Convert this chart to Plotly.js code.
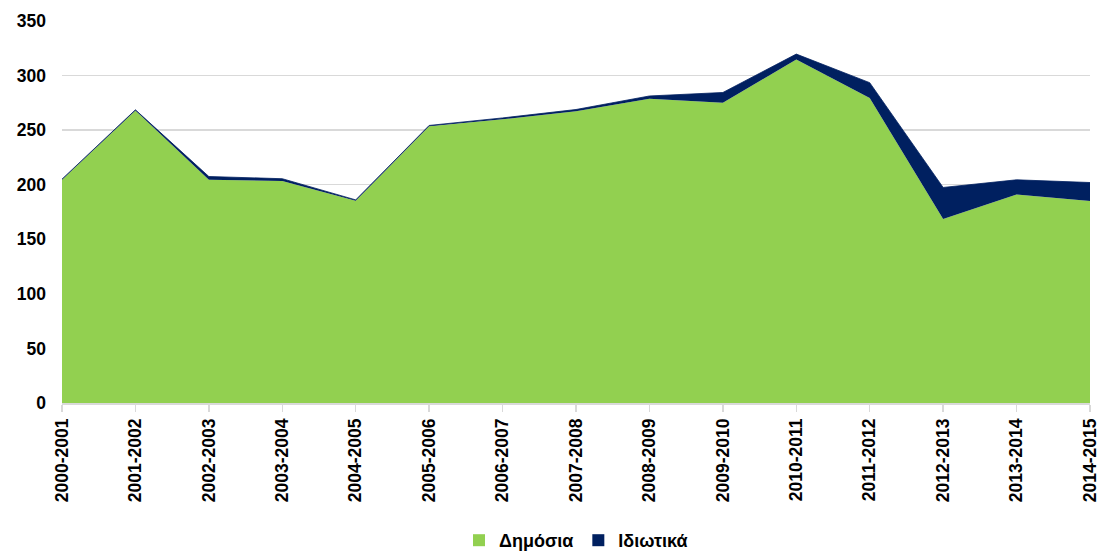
<!DOCTYPE html>
<html>
<head>
<meta charset="utf-8">
<script src="https://cdn.plot.ly/plotly-3.0.1.min.js"></script>
<style>html,body{margin:0;padding:0;background:#fff;}#chart{width:1099px;height:559px;}</style>
</head>
<body>
<div id="chart"></div>
<script>
const years = ["2000-2001","2001-2002","2002-2003","2003-2004","2004-2005","2005-2006","2006-2007","2007-2008","2008-2009","2009-2010","2010-2011","2011-2012","2012-2013","2013-2014","2014-2015"];
const publicVals = [204.5, 268, 204.5, 203.5, 185.3, 253.5, 260, 267.3, 278.8, 275, 314.7, 279.5, 168.5, 191, 185];
const privateVals = [0.6, 0.6, 3, 2, 0.8, 0.8, 1.2, 1.6, 2.5, 9.5, 5, 14, 29, 13.5, 17];
const names = ["Δημόσια", "Ιδιωτικά"];
const colors = ["#92D050", "#002060"];

const font = "Liberation Sans, Arial, sans-serif";
const traces = [
  {x: years, y: publicVals, name: names[0], type: "scatter", mode: "lines", stackgroup: "one",
   fillcolor: colors[0], line: {width: 0, color: colors[0]}, hoverinfo: "skip", showlegend: false},
  {x: years, y: privateVals, name: names[1], type: "scatter", mode: "lines", stackgroup: "one",
   fillcolor: colors[1], line: {width: 0.8, color: colors[1]}, hoverinfo: "skip", showlegend: false},
  {x: [years[0]], y: [null], name: names[0], type: "bar", marker: {color: colors[0]}, hoverinfo: "skip"},
  {x: [years[0]], y: [null], name: names[1], type: "bar", marker: {color: colors[1]}, hoverinfo: "skip"}
];
const layout = {
  width: 1099, height: 559,
  margin: {l: 62, r: 9, t: 21, b: 156},
  paper_bgcolor: "#fff", plot_bgcolor: "#fff",
  showlegend: true,
  legend: {orientation: "h", x: 0.5, xanchor: "center", yref: "container", y: -0.026, yanchor: "bottom",
    font: {family: font, size: 18, weight: "bold", color: "#000"}, traceorder: "normal", itemwidth: 30},
  xaxis: {type: "category", range: [0, 14], tickangle: -90, showgrid: false,
    showline: true, linecolor: "#d9d9d9", linewidth: 1.5, ticks: "outside", ticklen: 7, tickcolor: "#d9d9d9",
    tickwidth: 1.5, tickfont: {family: font, size: 17.5, weight: "bold", color: "#000"}, zeroline: false},
  yaxis: {range: [0, 350], dtick: 50, showgrid: true, gridcolor: "#d9d9d9", gridwidth: 1.5,
    zeroline: false, showline: false, ticks: "", ticklabelstandoff: 15,
    tickfont: {family: font, size: 17.5, weight: "bold", color: "#000"}},
  hovermode: false
};
Plotly.newPlot("chart", traces, layout, {displayModeBar: false, staticPlot: true});
</script>
</body>
</html>
